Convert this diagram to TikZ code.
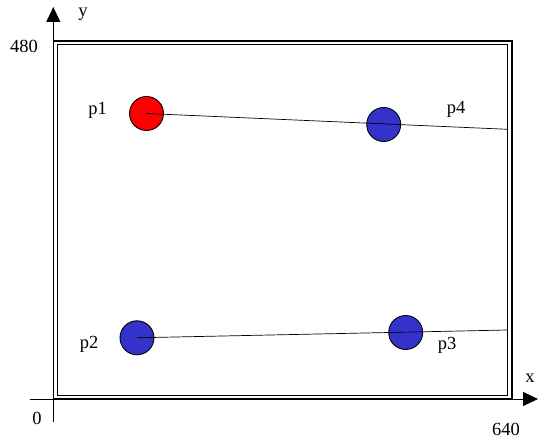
\documentclass[tikz,border=0pt]{standalone}
\usepackage{fontspec}
\setmainfont{Liberation Serif}
\usetikzlibrary{arrows.meta}
\begin{document}
\begin{tikzpicture}[x=1pt,y=-1pt,
  dot/.style={circle,draw=black,line width=0.9pt,minimum size=34pt,inner sep=0pt},
  redpt/.style={dot,fill=red},
  bluept/.style={dot,fill={rgb,255:red,51;green,51;blue,204}},
  lbl/.style={inner sep=0pt,font=\fontsize{18.5}{20}\selectfont},
  axis/.style={line width=0.9pt,-{Triangle[length=15pt,width=14pt]}},
  conn/.style={line width=0.7pt}]
\useasboundingbox (0,0) rectangle (538,438);
% frame
\draw[line width=1.6pt] (53.3,41) rectangle (512,399);
\draw[line width=0.9pt] (57,44.5) rectangle (507.5,395.5);
% axes
\coordinate (xs) at (30,399);
\coordinate (xe) at (538,399);
\coordinate (ys) at (53.3,422);
\coordinate (ye) at (53.3,7);
\draw[axis] (xs) -- (xe);
\draw[axis] (ys) -- (ye);
% axis labels
\node[lbl] (ly) at (83,14) {y};
\node[lbl] (lx) at (530,378) {x};
\node[lbl] (l480) at (24,46.5) {480};
\node[lbl] (l0) at (37,418) {0};
\node[lbl] (l640) at (506,429) {640};
% points
\node[redpt] (p1) at (146.5,113.5) {};
\node[bluept] (p4) at (383.7,124.5) {};
\node[bluept] (p2) at (137,337.8) {};
\node[bluept] (p3) at (405.7,332.5) {};
% connectors
\coordinate (e1) at (507.5,129.3);
\coordinate (e2) at (507.5,330);
\draw[conn] (p1.center) -- (e1);
\draw[conn] (p2.center) -- (e2);
% point labels
\node[lbl] (t1) at (97.5,110.5) {p1};
\node[lbl] (t4) at (456,109.5) {p4};
\node[lbl] (t2) at (89,344) {p2};
\node[lbl] (t3) at (447,345) {p3};
\end{tikzpicture}
\end{document}
